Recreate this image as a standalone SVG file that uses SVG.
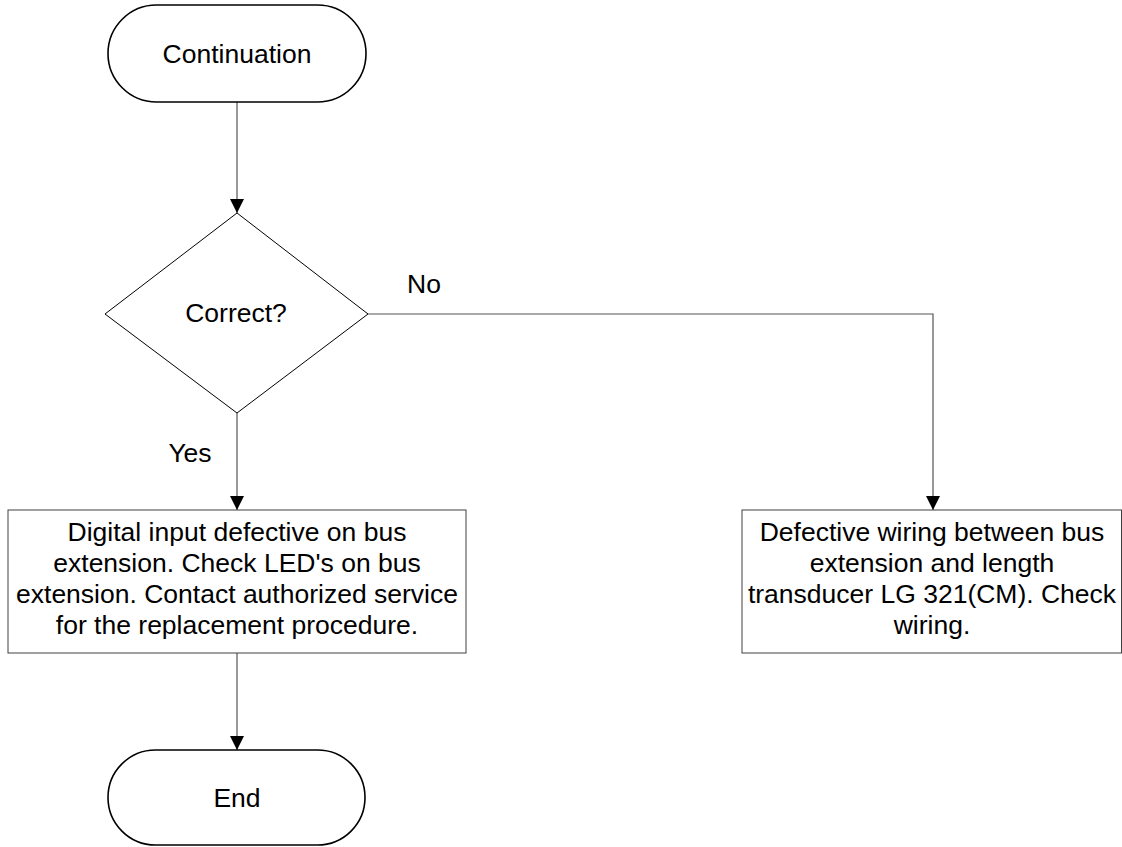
<svg xmlns="http://www.w3.org/2000/svg" width="1122" height="847" viewBox="0 0 1122 847">
<style>
text{font-family:"Liberation Sans",Arial,sans-serif;font-size:26.5px;fill:#000;text-anchor:middle}
.term{fill:#fff;stroke:#000;stroke-width:1.6}
.box{fill:#fff;stroke:#404040;stroke-width:1}
.dia{fill:#fff;stroke:#000;stroke-width:1}
.conn{fill:none;stroke:#555;stroke-width:1.2}
</style>
<defs>
<marker id="ah" markerUnits="userSpaceOnUse" markerWidth="14" markerHeight="16" refX="14" refY="7" orient="auto">
<path d="M0,0 L14,7 L0,14 Z" fill="#000"/>
</marker>
</defs>
<rect width="1122" height="847" fill="#fff"/>
<g id="connectors">
<path class="conn" d="M237,102 V213" marker-end="url(#ah)"/>
<path class="conn" d="M237,413 V510" marker-end="url(#ah)"/>
<path class="conn" d="M368,314 H933 V510" marker-end="url(#ah)"/>
<path class="conn" d="M237,653 V750" marker-end="url(#ah)"/>
<text x="424" y="293">No</text>
<text x="190" y="462">Yes</text>
</g>
<g id="start">
<rect class="term" x="108" y="5" width="258" height="97" rx="48.5"/>
<text x="237" y="63">Continuation</text>
</g>
<g id="decision">
<polygon class="dia" points="237,213 368,314 237,413 105,314"/>
<text x="236" y="322">Correct?</text>
</g>
<g id="yesbox">
<rect class="box" x="8" y="510" width="458" height="143"/>
<text x="237" y="541">Digital input defective on bus</text>
<text x="237" y="572">extension. Check LED's on bus</text>
<text x="237" y="603">extension. Contact authorized service</text>
<text x="237" y="634">for the replacement procedure.</text>
</g>
<g id="nobox">
<rect class="box" x="742" y="510" width="379.5" height="143"/>
<text x="932" y="541">Defective wiring between bus</text>
<text x="932" y="572">extension and length</text>
<text x="932" y="603">transducer LG 321(CM). Check</text>
<text x="932" y="634">wiring.</text>
</g>
<g id="end">
<rect class="term" x="108" y="750" width="257" height="95" rx="47.5"/>
<text x="237" y="807">End</text>
</g>
</svg>
